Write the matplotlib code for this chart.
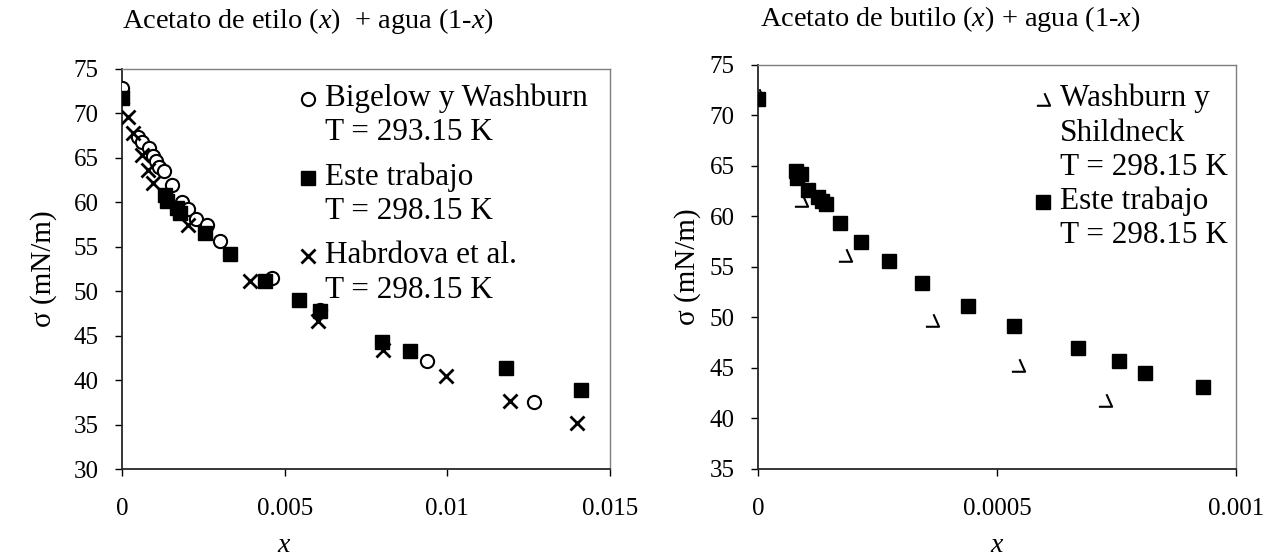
import matplotlib
matplotlib.use("Agg")
import matplotlib.pyplot as plt
import numpy as np
from matplotlib.path import Path
from matplotlib.legend_handler import HandlerLine2D
from matplotlib.transforms import Affine2D

plt.rcParams['font.family'] = ['Liberation Serif', 'DejaVu Serif']
plt.rcParams['mathtext.fontset'] = 'custom'
plt.rcParams['mathtext.rm'] = 'Liberation Serif'
plt.rcParams['mathtext.it'] = 'Liberation Serif:italic'

# Acetato de etilo + agua
bw_x = [0, 0.00048, 0.00062, 0.00083, 0.00095, 0.00105, 0.00115, 0.00128, 0.00153,
        0.00184, 0.00203, 0.00228, 0.0026, 0.00302, 0.00462, 0.0061, 0.00938, 0.01265]
bw_s = [72.9, 67.3, 66.8, 66.1, 65.2, 64.6, 64.0, 63.5, 62.0,
        60.0, 59.3, 58.1, 57.4, 55.6, 51.5, 47.9, 42.2, 37.5]
et_x = [0, 0.00132, 0.00137, 0.00168, 0.00178, 0.00255, 0.00332, 0.0044, 0.00545,
        0.0061, 0.008, 0.00886, 0.0118, 0.0141]
et_s = [71.7, 60.8, 60.2, 59.4, 58.8, 56.6, 54.2, 51.1, 49.0,
        47.8, 44.3, 43.3, 41.4, 38.9]
hb_x = [0, 0.00018, 0.00034, 0.0006, 0.0008, 0.00096, 0.00204, 0.00394, 0.00603,
        0.00803, 0.00997, 0.01194, 0.014]
hb_s = [71.9, 69.6, 67.8, 65.3, 63.6, 62.2, 57.4, 51.1, 46.6,
        43.4, 40.5, 37.7, 35.2]

# Acetato de butilo + agua
bu_x = [0, 0.000080, 0.000090, 0.000082, 0.000105, 0.000125, 0.000133, 0.000142,
        0.000172, 0.000215, 0.000274, 0.000343, 0.000439, 0.000536, 0.000669,
        0.000755, 0.00081, 0.000931]
bu_s = [71.6, 64.5, 64.2, 63.8, 62.6, 61.9, 61.5, 61.2,
        59.35, 57.5, 55.6, 53.4, 51.1, 49.2, 47.0,
        45.7, 44.5, 43.1]
ws_x = [0, 0.00009, 0.000183, 0.000363, 0.000544, 0.000726]
ws_s = [72.0, 61.6, 56.2, 49.8, 45.3, 41.8]

LS = 1.25   # line spacing of legend labels
LEG_FS = 22.5


class TopLine(HandlerLine2D):
    # put the marker on the first line of a multi-line label
    def create_artists(self, legend, orig_handle, xdescent, ydescent, width, height, fontsize, trans):
        n = orig_handle.get_label().count('\n')
        shift = n * fontsize * (0.22 + 0.69 * LS) / 2
        t = Affine2D().translate(0, shift) + trans
        return super().create_artists(legend, orig_handle, xdescent, ydescent, width, height, fontsize, t)


tri = Path([(0.15, 0.95), (1.0, -0.95), (-1.0, -0.95)],
           [Path.MOVETO, Path.LINETO, Path.LINETO])

fig = plt.figure(figsize=(12.73, 5.59), dpi=100)
ax1 = fig.add_axes([122/1273, 90/559, 488/1273, 400/559])
ax2 = fig.add_axes([758/1273, 90/559, 478/1273, 404/559])

ax1.plot(bw_x, bw_s, 'o', ms=9.5, mfc='white', mec='black', mew=1.5, zorder=3,
         label='Bigelow y Washburn\nT = 293.15 K')
ax1.plot(et_x, et_s, 's', ms=10.5, mfc='black', mec='black', zorder=4,
         label='Este trabajo\nT = 298.15 K')
ax1.plot(hb_x, hb_s, 'x', ms=10, mec='black', mew=2, zorder=5,
         label='Habrdova et al.\nT = 298.15 K')

ax2.plot(ws_x, ws_s, linestyle='none', marker=tri, ms=9.5, mfc='none', mec='black',
         mew=1.5, zorder=3, label='Washburn y\nShildneck\nT = 298.15 K')
ax2.plot(bu_x, bu_s, 's', ms=10.5, mfc='black', mec='black', zorder=4,
         label='Este trabajo\nT = 298.15 K')

ax1.set_xlim(0, 0.015)
ax1.set_ylim(30, 75)
ax1.set_xticks([0, 0.005, 0.01, 0.015])
ax1.set_xticklabels(['0', '0.005', '0.01', '0.015'])
ax1.set_yticks(np.arange(30, 76, 5))

ax2.set_xlim(0, 0.001)
ax2.set_ylim(35, 75)
ax2.set_xticks([0, 0.0005, 0.001])
ax2.set_xticklabels(['0', '0.0005', '0.001'])
ax2.set_yticks(np.arange(35, 76, 5))

for ax in (ax1, ax2):
    ax.tick_params(direction='out', length=5, width=1, pad=12, labelsize=18,
                   colors='black')
    ax.tick_params(axis='x', pad=16)
    for s in ('left', 'bottom'):
        ax.spines[s].set_color('#262626')
        ax.spines[s].set_linewidth(1.3)
    for s in ('top', 'right'):
        ax.spines[s].set_color('#7f7f7f')
        ax.spines[s].set_linewidth(1.0)
    ax.set_xlabel('$x$', fontsize=20, labelpad=9)

ax1.set_ylabel('σ (mN/m)', fontsize=21, labelpad=12)
ax2.set_ylabel('σ (mN/m)', fontsize=21, labelpad=6)
ax1.xaxis.label.set_x(1/3)

leg1 = ax1.legend(loc='upper left', bbox_to_anchor=(0.358, 0.964), frameon=False,
                  fontsize=LEG_FS, handlelength=0.7, handletextpad=0.2, borderpad=0,
                  borderaxespad=0, labelspacing=0.48,
                  handler_map={matplotlib.lines.Line2D: TopLine()})
leg2 = ax2.legend(loc='upper left', bbox_to_anchor=(0.5726, 0.954), frameon=False,
                  fontsize=LEG_FS, handlelength=0.7, handletextpad=0.2, borderpad=0,
                  borderaxespad=0, labelspacing=0.14,
                  handler_map={matplotlib.lines.Line2D: TopLine()})
for leg in (leg1, leg2):
    for t in leg.get_texts():
        t.set_linespacing(LS)

fig.text(122/1273, 1 - 21/559, 'Acetato de etilo ($x$)  + agua (1-$x$)', fontsize=20.4,
         va='center', ha='left')
fig.text(760/1273, 1 - 19/559, 'Acetato de butilo ($x$) + agua (1-$x$)', fontsize=20.4,
         va='center', ha='left')

fig.savefig('out.png', dpi=100)
